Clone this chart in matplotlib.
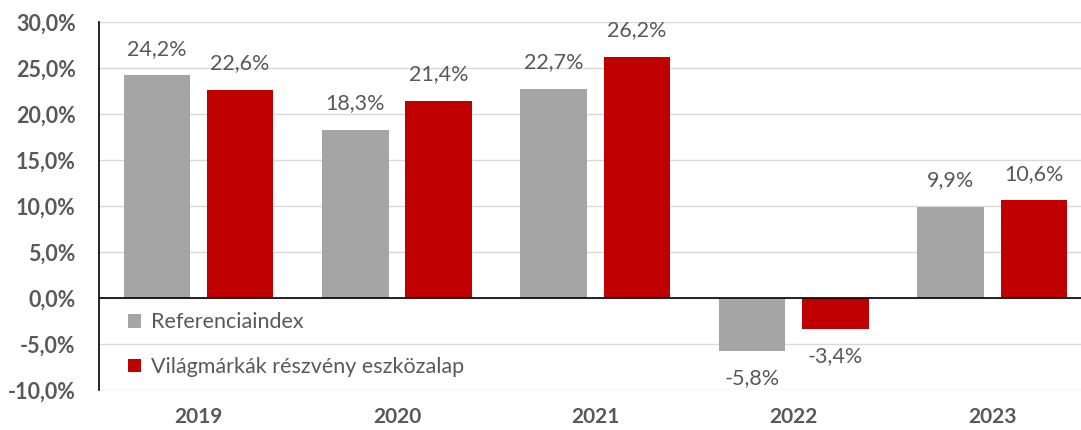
import matplotlib.pyplot as plt
import numpy as np

years = ['2019', '2020', '2021', '2022', '2023']
ref_index = [24.2, 18.3, 22.7, -5.8, 9.9]
fund = [22.6, 21.4, 26.2, -3.4, 10.6]
series_names = ['Referenciaindex', 'Világmárkák részvény eszközalap']

GRAY = '#A5A5A5'
RED = '#C00000'
TXT = '#595959'

plt.rcParams['font.family'] = ['Lato', 'DejaVu Sans']

fig = plt.figure(figsize=(10.81, 4.30), dpi=100)
# plot area runs a little past the right edge of the picture
ax = fig.add_axes([0.0918, 0.093, 0.918, 0.856])

x = np.arange(len(years))
w = 0.335
off = 0.21
b1 = ax.bar(x - off, ref_index, w, color=GRAY, label=series_names[0], zorder=2)
b2 = ax.bar(x + off, fund, w, color=RED, label=series_names[1], zorder=2)

def fmt(v):
    return f'{v:.1f}%'.replace('.', ',')

for bars, vals in ((b1, ref_index), (b2, fund)):
    for b, v in zip(bars, vals):
        cx = b.get_x() + b.get_width() / 2
        if v >= 0:
            ax.annotate(fmt(v), (cx, v), xytext=(0, 12), textcoords='offset points',
                        ha='center', va='bottom', fontsize=15.5, color=TXT)
        else:
            ax.annotate(fmt(v), (cx, v), xytext=(0, -12), textcoords='offset points',
                        ha='center', va='top', fontsize=15.5, color=TXT)

ax.set_xlim(-0.5, 4.5)
ax.set_ylim(-10, 30)
ax.set_yticks(np.arange(-10, 31, 5))
ax.set_yticklabels([fmt(t) for t in np.arange(-10, 31, 5)], fontsize=15.5,
                   fontweight='bold', color=TXT)
ax.set_xticks(x)
ax.set_xticklabels(years, fontsize=15, fontweight='bold', color=TXT)
ax.tick_params(axis='y', length=0, pad=17)
ax.tick_params(axis='x', length=0, pad=12)

ax.grid(axis='y', color='#D9D9D9', lw=1, zorder=0)
ax.axhline(0, color='black', lw=1.2, zorder=3)
for s in ('top', 'right', 'bottom'):
    ax.spines[s].set_visible(False)
ax.spines['left'].set_color('black')
ax.spines['left'].set_linewidth(1.2)

leg = ax.legend(loc='upper left', bbox_to_anchor=(0.029, 0.211), frameon=False,
                fontsize=15.5, labelspacing=1.15, handlelength=0.6, handleheight=0.6,
                handletextpad=0.45, borderaxespad=0, borderpad=0)
for t in leg.get_texts():
    t.set_color(TXT)

fig.savefig('out.png', dpi=100)
